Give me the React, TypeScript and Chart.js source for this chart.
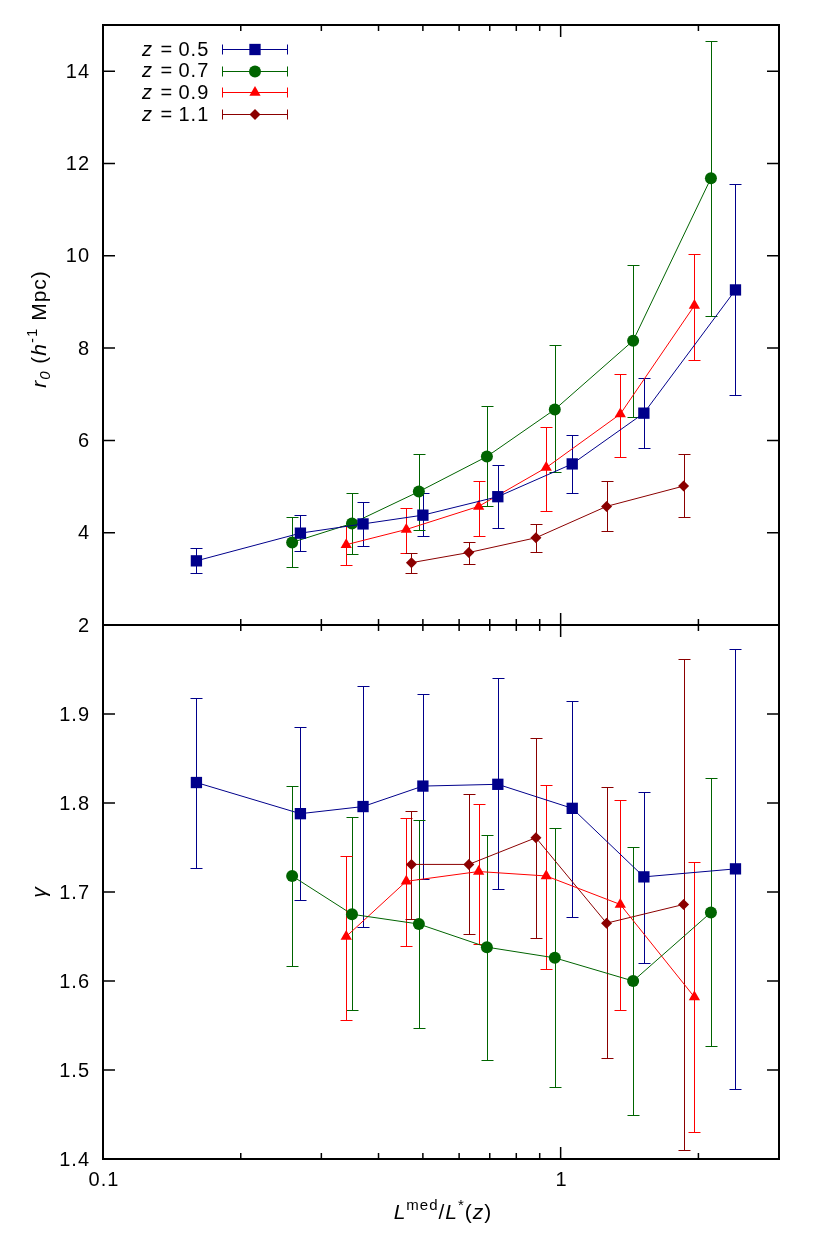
import { useEffect, useRef } from 'react';
import { Chart, registerables } from 'chart.js';

Chart.register(...registerables);

// ---------- data ----------
const redshiftLabels = ['0.5', '0.7', '0.9', '1.1'];

// z = 0.5
const lum05 = [0.160, 0.270, 0.370, 0.500, 0.729, 1.06, 1.52, 2.41];
const r0_05 = [3.39, 3.99, 4.19, 4.38, 4.78, 5.49, 6.59, 9.26];
const r0Lo_05 = [3.12, 3.60, 3.72, 3.93, 4.10, 4.86, 5.83, 6.99];
const r0Hi_05 = [3.67, 4.38, 4.67, 4.85, 5.46, 6.12, 7.35, 11.55];
const gam_05 = [1.823, 1.788, 1.796, 1.819, 1.821, 1.794, 1.717, 1.726];
const gamLo_05 = [1.727, 1.691, 1.661, 1.715, 1.703, 1.672, 1.620, 1.479];
const gamHi_05 = [1.918, 1.885, 1.931, 1.923, 1.940, 1.915, 1.812, 1.973];

// z = 0.7
const lum07 = [0.259, 0.350, 0.490, 0.690, 0.971, 1.44, 2.13];
const r0_07 = [3.79, 4.20, 4.89, 5.65, 6.67, 8.16, 11.68];
const r0Lo_07 = [3.25, 3.53, 4.05, 4.57, 5.31, 6.51, 8.69];
const r0Hi_07 = [4.33, 4.86, 5.71, 6.74, 8.06, 9.81, 14.65];
const gam_07 = [1.718, 1.675, 1.664, 1.638, 1.626, 1.600, 1.677];
const gamLo_07 = [1.617, 1.567, 1.547, 1.511, 1.481, 1.450, 1.527];
const gamHi_07 = [1.819, 1.784, 1.781, 1.764, 1.772, 1.751, 1.828];

// z = 0.9
const lum09 = [0.340, 0.460, 0.662, 0.930, 1.35, 1.96];
const r0_09 = [3.74, 4.07, 4.57, 5.41, 6.57, 8.92];
const r0Lo_09 = [3.30, 3.57, 3.93, 4.46, 5.63, 7.75];
const r0Hi_09 = [4.14, 4.53, 5.13, 6.30, 7.44, 10.04];
const gam_09 = [1.650, 1.712, 1.723, 1.718, 1.686, 1.582];
const gamLo_09 = [1.556, 1.639, 1.642, 1.614, 1.567, 1.430];
const gamHi_09 = [1.741, 1.783, 1.799, 1.820, 1.803, 1.734];

// z = 1.1
const lum11 = [0.472, 0.630, 0.883, 1.26, 1.856];
const r0_11 = [3.35, 3.57, 3.89, 4.57, 5.01];
const r0Lo_11 = [3.12, 3.33, 3.59, 4.03, 4.34];
const r0Hi_11 = [3.57, 3.80, 4.19, 5.12, 5.70];
const gam_11 = [1.731, 1.731, 1.761, 1.665, 1.686];
const gamLo_11 = [1.670, 1.653, 1.648, 1.514, 1.410];
const gamHi_11 = [1.791, 1.810, 1.873, 1.818, 1.962];

// ticks
const xMajorTicks = [0.1, 1];
const xMajorTickLabels = ['0.1', '1'];
const xMinorTicks = [0.2, 0.3, 0.4, 0.5, 0.6, 0.7, 0.8, 0.9, 2, 3];
const r0Ticks = [2, 4, 6, 8, 10, 12, 14];
const r0TickLabels = ['2', '4', '6', '8', '10', '12', '14'];
const gammaTicks = [1.4, 1.5, 1.6, 1.7, 1.8, 1.9];
const gammaTickLabels = ['1.4', '1.5', '1.6', '1.7', '1.8', '1.9'];

// ---------- style ----------
const colors = ['#00008b', '#006400', '#ff0000', '#8b0000'];
const pointStyles = ['rect', 'circle', 'triangle', 'rectRot'];
const pointRadii = [8, 6, 6.5, 5.5];
const FONT = '"Liberation Sans", Arial, Helvetica, sans-serif';
const BASE = 20;

const SERIES = [
  { lum: lum05, r0: r0_05, r0Lo: r0Lo_05, r0Hi: r0Hi_05, gam: gam_05, gamLo: gamLo_05, gamHi: gamHi_05 },
  { lum: lum07, r0: r0_07, r0Lo: r0Lo_07, r0Hi: r0Hi_07, gam: gam_07, gamLo: gamLo_07, gamHi: gamHi_07 },
  { lum: lum09, r0: r0_09, r0Lo: r0Lo_09, r0Hi: r0Hi_09, gam: gam_09, gamLo: gamLo_09, gamHi: gamHi_09 },
  { lum: lum11, r0: r0_11, r0Lo: r0Lo_11, r0Hi: r0Hi_11, gam: gam_11, gamLo: gamLo_11, gamHi: gamHi_11 },
];

type Piece = { t: string; italic?: boolean; size?: number; dy?: number };

function font(p: Piece) {
  return `${p.italic ? 'italic ' : ''}${p.size || 21}px ${FONT}`;
}

function setSpacing(ctx: any, v: string) {
  if ('letterSpacing' in ctx) ctx.letterSpacing = v;
}

function drawPieces(ctx: CanvasRenderingContext2D, pieces: Piece[], cx: number, baseY: number) {
  setSpacing(ctx, '1px');
  let total = 0;
  for (const p of pieces) {
    ctx.font = font(p);
    total += ctx.measureText(p.t).width;
  }
  let x = cx - total / 2;
  ctx.textAlign = 'left';
  ctx.textBaseline = 'alphabetic';
  for (const p of pieces) {
    ctx.font = font(p);
    ctx.fillText(p.t, x, baseY + (p.dy || 0));
    x += ctx.measureText(p.t).width;
  }
  setSpacing(ctx, '0px');
}

function drawMarker(ctx: CanvasRenderingContext2D, style: string, r: number, x: number, y: number) {
  ctx.beginPath();
  if (style === 'rect') {
    const s = Math.SQRT1_2 * r;
    ctx.rect(x - s, y - s, 2 * s, 2 * s);
  } else if (style === 'circle') {
    ctx.arc(x, y, r, 0, Math.PI * 2);
  } else if (style === 'triangle') {
    ctx.moveTo(x, y - r);
    ctx.lineTo(x + r * 0.866, y + r / 2);
    ctx.lineTo(x - r * 0.866, y + r / 2);
    ctx.closePath();
  } else {
    ctx.moveTo(x, y - r);
    ctx.lineTo(x + r, y);
    ctx.lineTo(x, y + r);
    ctx.lineTo(x - r, y);
    ctx.closePath();
  }
  ctx.fill();
}

function makePlugin(isTop: boolean) {
  return {
    id: 'gnuframe',
    beforeDatasetsDraw(chart: any) {
      const { ctx, scales } = chart;
      const xs = scales.x;
      const ys = scales.y;
      ctx.save();
      ctx.lineWidth = 1;
      chart.data.datasets.forEach((ds: any) => {
        ctx.strokeStyle = ds.borderColor;
        ds.data.forEach((p: any, j: number) => {
          const px = Math.round(xs.getPixelForValue(p.x)) + 0.5;
          const lo = Math.round(ys.getPixelForValue(ds.errLow[j])) + 0.5;
          const hi = Math.round(ys.getPixelForValue(ds.errHigh[j])) + 0.5;
          ctx.beginPath();
          ctx.moveTo(px, lo);
          ctx.lineTo(px, hi);
          ctx.moveTo(px - 6, lo);
          ctx.lineTo(px + 6, lo);
          ctx.moveTo(px - 6, hi);
          ctx.lineTo(px + 6, hi);
          ctx.stroke();
        });
      });
      ctx.restore();
    },
    afterDraw(chart: any) {
      const { ctx, chartArea: a, scales } = chart;
      const xs = scales.x;
      const ys = scales.y;
      ctx.save();
      ctx.fillStyle = '#000';
      ctx.strokeStyle = '#000';
      ctx.lineWidth = 1.5;
      const yt = isTop ? r0Ticks : gammaTicks;
      const yl = isTop ? r0TickLabels : gammaTickLabels;
      ctx.beginPath();
      yt.forEach((v) => {
        const py = ys.getPixelForValue(v);
        ctx.moveTo(a.left, py);
        ctx.lineTo(a.left + 12, py);
        ctx.moveTo(a.right, py);
        ctx.lineTo(a.right - 12, py);
      });
      xMajorTicks.forEach((v) => {
        const px = xs.getPixelForValue(v);
        ctx.moveTo(px, a.bottom);
        ctx.lineTo(px, a.bottom - 12);
        ctx.moveTo(px, a.top);
        ctx.lineTo(px, a.top + 12);
      });
      xMinorTicks.forEach((v) => {
        const px = xs.getPixelForValue(v);
        ctx.moveTo(px, a.bottom);
        ctx.lineTo(px, a.bottom - 6);
        ctx.moveTo(px, a.top);
        ctx.lineTo(px, a.top + 6);
      });
      ctx.stroke();
      ctx.lineWidth = 2;
      ctx.strokeRect(a.left, a.top, a.right - a.left, a.bottom - a.top);

      // y tick labels
      ctx.font = `${BASE}px ${FONT}`;
      setSpacing(ctx, '1px');
      ctx.textAlign = 'right';
      ctx.textBaseline = 'middle';
      yt.forEach((v, i) => {
        ctx.fillText(yl[i], a.left - 13, ys.getPixelForValue(v) + 1);
      });

      if (!isTop) {
        ctx.textAlign = 'center';
        xMajorTicks.forEach((v, i) => {
          ctx.fillText(xMajorTickLabels[i], xs.getPixelForValue(v) + 1, a.bottom + 21);
        });
        setSpacing(ctx, '0px');
        drawPieces(
          ctx,
          [
            { t: 'L', italic: true },
            { t: 'med', size: 15, dy: -9 },
            { t: '/' },
            { t: 'L', italic: true },
            { t: '*', size: 15, dy: -9 },
            { t: '(' },
            { t: 'z', italic: true },
            { t: ')' },
          ],
          443,
          a.bottom + 60
        );
      }
      setSpacing(ctx, '0px');

      // y title
      ctx.save();
      const cy = (a.top + a.bottom) / 2;
      ctx.translate(46, cy + (isTop ? 4 : 0));
      ctx.rotate(-Math.PI / 2);
      if (isTop) {
        drawPieces(
          ctx,
          [
            { t: 'r', italic: true },
            { t: '0', italic: true, size: 15, dy: 4 },
            { t: ' (' },
            { t: 'h', italic: true },
            { t: '-1', size: 15, dy: -9 },
            { t: ' Mpc)' },
          ],
          0,
          0
        );
      } else {
        drawPieces(ctx, [{ t: 'γ', italic: true }], 0, 0);
      }
      ctx.restore();

      // legend
      if (isTop) {
        redshiftLabels.forEach((lab, i) => {
          const ry = a.top + 24 + i * 21.7;
          ctx.fillStyle = '#000';
          ctx.textAlign = 'left';
          ctx.textBaseline = 'middle';
          ctx.font = `italic ${BASE}px ${FONT}`;
          ctx.fillText('z', 142, ry + 1);
          ctx.font = `${BASE}px ${FONT}`;
          ctx.fillText('=', 160.5, ry + 1);
          setSpacing(ctx, '1px');
          ctx.fillText(lab, 178.5, ry + 1);
          setSpacing(ctx, '0px');
          const y0 = Math.round(ry) + 0.5;
          ctx.strokeStyle = colors[i];
          ctx.lineWidth = 1;
          ctx.beginPath();
          ctx.moveTo(222.5, y0);
          ctx.lineTo(287.5, y0);
          ctx.moveTo(222.5, y0 - 5);
          ctx.lineTo(222.5, y0 + 5);
          ctx.moveTo(287.5, y0 - 5);
          ctx.lineTo(287.5, y0 + 5);
          ctx.stroke();
          ctx.fillStyle = colors[i];
          drawMarker(ctx, pointStyles[i], pointRadii[i], 255, y0);
        });
      }
      ctx.restore();
    },
  };
}

function makeChart(canvas: HTMLCanvasElement, isTop: boolean) {
  const datasets = SERIES.map((s, i) => ({
    label: 'z = ' + redshiftLabels[i],
    data: s.lum.map((x, j) => ({ x, y: isTop ? s.r0[j] : s.gam[j] })),
    errLow: isTop ? s.r0Lo : s.gamLo,
    errHigh: isTop ? s.r0Hi : s.gamHi,
    borderColor: colors[i],
    backgroundColor: colors[i],
    borderWidth: 1,
    pointStyle: pointStyles[i],
    pointRadius: pointRadii[i],
    pointBorderWidth: 0,
    tension: 0,
    fill: false,
  }));
  return new Chart(canvas, {
    type: 'line',
    data: { datasets } as any,
    options: {
      responsive: false,
      maintainAspectRatio: false,
      animation: false,
      events: [],
      devicePixelRatio: 1,
      layout: {
        padding: isTop
          ? { left: 103, right: 51, top: 25, bottom: 15 }
          : { left: 103, right: 51, top: 15, bottom: 90 },
      },
      plugins: { legend: { display: false }, tooltip: { enabled: false } },
      scales: {
        x: { type: 'logarithmic', min: 0.1, max: 3, display: false },
        y: { type: 'linear', min: isTop ? 2 : 1.4, max: isTop ? 15 : 2.0, display: false },
      },
    } as any,
    plugins: [makePlugin(isTop)],
  });
}

export default function App() {
  const topRef = useRef<HTMLCanvasElement>(null);
  const botRef = useRef<HTMLCanvasElement>(null);
  useEffect(() => {
    const c1 = makeChart(topRef.current!, true);
    const c2 = makeChart(botRef.current!, false);
    return () => {
      c1.destroy();
      c2.destroy();
    };
  }, []);
  return (
    <div style={{ position: 'absolute', left: 0, top: 0, width: 830, height: 1249, background: '#fff' }}>
      <canvas
        ref={botRef}
        width={830}
        height={639}
        style={{ position: 'absolute', left: 0, top: 610, width: 830, height: 639 }}
      />
      <canvas
        ref={topRef}
        width={830}
        height={640}
        style={{ position: 'absolute', left: 0, top: 0, width: 830, height: 640 }}
      />
    </div>
  );
}
